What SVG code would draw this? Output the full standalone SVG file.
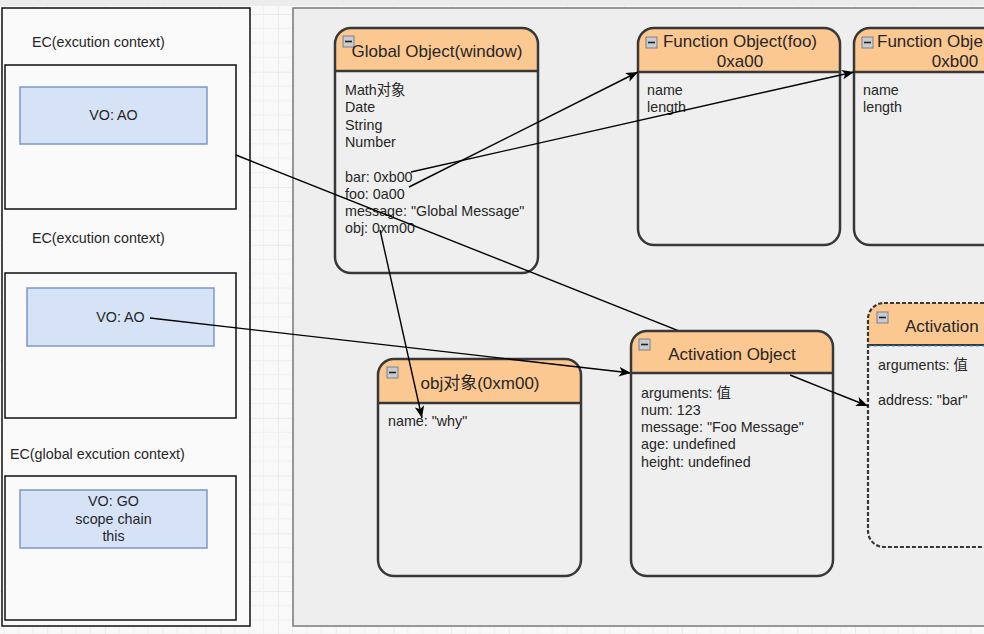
<svg xmlns="http://www.w3.org/2000/svg" width="984" height="634" viewBox="0 0 984 634">
  <defs>
    <pattern id="grid" x="47.2" y="14" width="57.7" height="57.7" patternUnits="userSpaceOnUse">
      <path d="M0,0 H57.7 M0,0 V57.7" fill="none" stroke="#dedede" stroke-width="1"/>
      <path d="M14.4,0 V57.7 M28.9,0 V57.7 M43.3,0 V57.7 M0,14.4 H57.7 M0,28.9 H57.7 M0,43.3 H57.7" fill="none" stroke="#f0f0f0" stroke-width="1"/>
    </pattern>
    <marker id="arrow" viewBox="0 0 10 8" refX="10" refY="4" markerWidth="12" markerHeight="10" markerUnits="userSpaceOnUse" orient="auto">
      <path d="M0,0 L10,4 L0,8 L2.5,4 Z" fill="#000"/>
    </marker>
    <g id="icon">
      <rect x="0" y="0" width="11" height="11" fill="#c9cbd3" stroke="#7d7f88" stroke-width="1"/>
      <line x1="2" y1="5.5" x2="9" y2="5.5" stroke="#222" stroke-width="1.6"/>
    </g>
  </defs>
  <style>
    text { font-family: "Liberation Sans", "Noto Sans CJK SC", sans-serif; fill: #262626; }
    .body { font-size: 14.3px; }
    .title { font-size: 17px; }
    .ctr { text-anchor: middle; }
    .panel { fill: #fafafa; stroke: #111; stroke-width: 1.5; }
    .vo { fill: #d6e3f7; stroke: #7d98c4; stroke-width: 1.5; }
    .nodebg { fill: #efefef; }
    .hdr { fill: #fcc891; }
    .outline { fill: none; stroke: #383838; stroke-width: 2.5; }
    .sep { stroke: #383838; stroke-width: 2.5; }
    .edge { fill: none; stroke: #000; stroke-width: 1.4; marker-end: url(#arrow); }
    .seg { fill: none; stroke: #000; stroke-width: 1.4; }
  </style>

  <!-- page background -->
  <rect x="0" y="0" width="984" height="634" fill="#f9f9f9"/>
  <rect x="0" y="0" width="984" height="634" fill="url(#grid)"/>
  <rect x="0" y="0" width="984" height="6" fill="#ececec"/>

  <!-- main canvas -->
  <rect x="293" y="8" width="700" height="618" fill="#eeeeee" stroke="#7a7a7a" stroke-width="1.5"/>

  <!-- left panel: execution context stack -->
  <g id="ec-stack">
    <rect class="panel" x="2" y="8" width="248" height="618"/>
  </g>
  <g id="ec1">
    <text class="body" x="32" y="47">EC(excution context)</text>
    <rect class="panel" x="5" y="65" width="231" height="144"/>
    <rect class="vo" x="20" y="87" width="187" height="57"/>
    <text class="body ctr" x="113.5" y="120">VO: AO</text>
  </g>
  <g id="ec2">
    <text class="body" x="32" y="243">EC(excution context)</text>
    <rect class="panel" x="5" y="273" width="231" height="145"/>
    <rect class="vo" x="27" y="288" width="187" height="58"/>
    <text class="body ctr" x="120.5" y="322">VO: AO</text>
  </g>
  <g id="ec-global">
    <text class="body" x="10" y="459">EC(global excution context)</text>
    <rect class="panel" x="5" y="476" width="231" height="144"/>
    <rect class="vo" x="20" y="490" width="187" height="58"/>
    <text class="body ctr" x="113.5" y="506">VO: GO</text>
    <text class="body ctr" x="113.5" y="523.5">scope chain</text>
    <text class="body ctr" x="113.5" y="541">this</text>
  </g>

  <!-- Global Object -->
  <g id="global-object">
    <rect class="nodebg" x="335" y="28" width="203" height="245" rx="16"/>
    <path class="hdr" d="M335,71 V44 A16,16 0 0 1 351,28 H522 A16,16 0 0 1 538,44 V71 Z"/>
    <line class="sep" x1="335" y1="71" x2="538" y2="71"/>
    <rect class="outline" x="335" y="28" width="203" height="245" rx="16"/>
    <use href="#icon" x="343" y="36"/>
    <text class="title ctr" x="437" y="57">Global Object(window)</text>
    <text class="body" x="345" y="95">Math对象<tspan x="345" dy="17.3">Date</tspan><tspan x="345" dy="17.3">String</tspan><tspan x="345" dy="17.3">Number</tspan><tspan x="345" dy="34.6">bar: 0xb00</tspan><tspan x="345" dy="17.3">foo: 0a00</tspan><tspan x="345" dy="17.3">message: "Global Message"</tspan><tspan x="345" dy="17.3">obj: 0xm00</tspan></text>
  </g>

  <!-- Function Object(foo) -->
  <g id="function-foo">
    <rect class="nodebg" x="638" y="28" width="202" height="217" rx="16"/>
    <path class="hdr" d="M638,72 V44 A16,16 0 0 1 654,28 H824 A16,16 0 0 1 840,44 V72 Z"/>
    <line class="sep" x1="638" y1="72" x2="840" y2="72"/>
    <rect class="outline" x="638" y="28" width="202" height="217" rx="16"/>
    <use href="#icon" x="646" y="37"/>
    <text class="title ctr" x="740" y="46.5">Function Object(foo)</text>
    <text class="title ctr" x="740" y="67">0xa00</text>
    <text class="body" x="647" y="95">name<tspan x="647" dy="17.3">length</tspan></text>
  </g>

  <!-- Function Object 0xb00 (clipped at right edge) -->
  <g id="function-bar">
    <rect class="nodebg" x="854" y="28" width="202" height="217" rx="16"/>
    <path class="hdr" d="M854,72 V44 A16,16 0 0 1 870,28 H1040 A16,16 0 0 1 1056,44 V72 Z"/>
    <line class="sep" x1="854" y1="72" x2="1056" y2="72"/>
    <rect class="outline" x="854" y="28" width="202" height="217" rx="16"/>
    <use href="#icon" x="862" y="37"/>
    <text class="title" x="877" y="46.5">Function Obje</text>
    <text class="title ctr" x="955" y="67">0xb00</text>
    <text class="body" x="863" y="95">name<tspan x="863" dy="17.3">length</tspan></text>
  </g>

  <!-- obj对象 -->
  <g id="obj-object">
    <rect class="nodebg" x="378" y="359" width="203" height="217" rx="16"/>
    <path class="hdr" d="M378,403 V375 A16,16 0 0 1 394,359 H565 A16,16 0 0 1 581,375 V403 Z"/>
    <line class="sep" x1="378" y1="403" x2="581" y2="403"/>
    <rect class="outline" x="378" y="359" width="203" height="217" rx="16"/>
    <use href="#icon" x="387" y="367"/>
    <text class="title ctr" x="480" y="389">obj对象(0xm00)</text>
    <text class="body" x="388" y="426">name: "why"</text>
  </g>

  <!-- Activation 2 (dashed, clipped at right edge) -->
  <g id="activation-bar">
    <rect class="nodebg" x="868" y="303" width="202" height="244" rx="16"/>
    <path class="hdr" d="M868,345 V319 A16,16 0 0 1 884,303 H1054 A16,16 0 0 1 1070,319 V345 Z"/>
    <line x1="868" y1="345" x2="1070" y2="345" stroke="#383838" stroke-width="2"/>
    <line x1="868" y1="346" x2="1070" y2="346" stroke="#3a9ad9" stroke-width="1" stroke-dasharray="3 3"/>
    <rect x="868" y="303" width="202" height="244" rx="16" fill="none" stroke="#383838" stroke-width="2.2" stroke-dasharray="4 2"/>
    <use href="#icon" x="877" y="312"/>
    <text class="title" x="905" y="331.5">Activation</text>
    <text class="body" x="878" y="370">arguments: 值</text>
    <text class="body" x="878" y="405">address: "bar"</text>
  </g>

  <!-- connectors -->
  <g id="connectors">
    <path class="edge" d="M411,172 L854,72"/>
    <path class="edge" d="M409,187 L638,72"/>
    <path class="edge" d="M236,155 L868,406"/>
    <path class="edge" d="M150,318 L631,373"/>
    <path class="edge" d="M380,230 L422,418"/>
  </g>

  <!-- Activation Object (drawn above connectors) -->
  <g id="activation-object">
    <rect class="nodebg" x="631" y="331" width="202" height="245" rx="16"/>
    <path class="hdr" d="M631,373 V347 A16,16 0 0 1 647,331 H817 A16,16 0 0 1 833,347 V373 Z"/>
    <line class="sep" x1="631" y1="373" x2="833" y2="373"/>
    <rect class="outline" x="631" y="331" width="202" height="245" rx="16"/>
    <use href="#icon" x="639" y="339"/>
    <text class="title ctr" x="732" y="359.5">Activation Object</text>
    <text class="body" x="641" y="397.5">arguments: 值<tspan x="641" dy="17.3">num: 123</tspan><tspan x="641" dy="17.3">message: "Foo Message"</tspan><tspan x="641" dy="17.3">age: undefined</tspan><tspan x="641" dy="17.3">height: undefined</tspan></text>
  </g>

  <!-- visible part of the EC → Activation connector over the Activation Object body -->
  <g id="connectors-over">
    <path class="seg" d="M790,375 L834,392.6"/>
  </g>
</svg>
